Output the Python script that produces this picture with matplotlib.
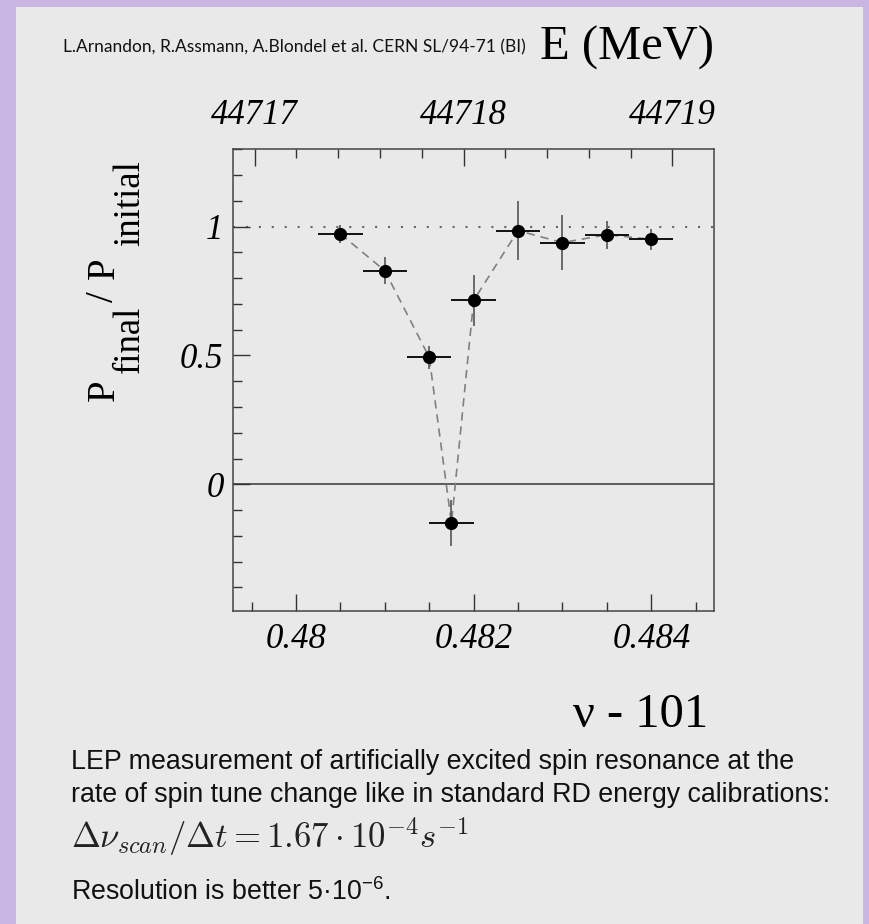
import numpy as np
import matplotlib
matplotlib.use("Agg")
from matplotlib import pyplot as plt
from matplotlib.ticker import MultipleLocator
from matplotlib.patches import Rectangle

# spin tune (nu - 101) of each scan step and measured polarisation ratio
nu = [0.4805, 0.4810, 0.4815, 0.48175, 0.4820, 0.4825, 0.4830, 0.4835, 0.4840]
ratio = [0.972, 0.829, 0.493, -0.150, 0.714, 0.985, 0.938, 0.969, 0.951]
ratio_err = [0.035, 0.052, 0.045, 0.09, 0.098, 0.116, 0.107, 0.055, 0.041]
nu_halfwidth = 0.00025

nu_ticks = [0.48, 0.482, 0.484]
nu_labels = ["0.48", "0.482", "0.484"]
e_ticks = [44717, 44718, 44719]
e_labels = ["44717", "44718", "44719"]
y_ticks = [0, 0.5, 1]
y_labels = ["0", "0.5", "1"]

# energy scale
E_REF = 44717.0
NU_REF = 0.479535
MEV_PER_NU = 425.4

W, H = 869, 924
BG = "#e9e9e9"
SERIF = "Liberation Serif"

plt.rcParams["mathtext.fontset"] = "custom"
plt.rcParams["mathtext.rm"] = "Liberation Sans"
plt.rcParams["mathtext.it"] = "Liberation Sans:italic"


def px(x, y):
    return x / W, 1 - y / H


fig = plt.figure(figsize=(W / 100, H / 100), dpi=100, facecolor="#c9b6e3")
fig.patches.append(Rectangle(px(16, 924), (863 - 16) / W, (924 - 7) / H,
                             transform=fig.transFigure, facecolor=BG,
                             edgecolor="none", zorder=-5))

ax = fig.add_axes([233.3 / W, 1 - 610.7 / H, (714 - 233.3) / W, (610.7 - 149) / H])
ax.patch.set_visible(False)
ax.set_xlim(0.479294, 0.484706)
ax.set_ylim(-0.4907, 1.3016)

ax.axhline(0, color="#444444", lw=1.2, zorder=1)
ax.axhline(1, color="#666666", lw=1.5, linestyle=(0, (1, 5.2)), zorder=1)
ax.plot(nu, ratio, color="#808080", lw=1.2, linestyle=(0, (5, 3.5)), zorder=2)
ax.errorbar(nu, ratio, yerr=ratio_err, fmt="none", ecolor="#555555",
            elinewidth=1.2, capsize=0, zorder=3)
ax.errorbar(nu, ratio, xerr=nu_halfwidth, fmt="o", color="black",
            markersize=8.5, elinewidth=1.3, capsize=0, zorder=4)

for s in ax.spines.values():
    s.set_color("#444444")
    s.set_linewidth(1.1)

tick_font = dict(fontsize=25, fontstyle="italic", fontfamily=SERIF)
ax.set_xticks(nu_ticks, labels=nu_labels, **tick_font)
ax.set_yticks(y_ticks, labels=y_labels, **tick_font)
ax.xaxis.set_minor_locator(MultipleLocator(0.0005))
ax.yaxis.set_minor_locator(MultipleLocator(0.1))
ax.tick_params(which="both", direction="in", top=False, right=False,
               color="#333333", width=1.0)
ax.tick_params(which="major", length=12.5)
ax.tick_params(which="minor", length=6.5)
ax.tick_params(axis="x", which="major", pad=9)
ax.tick_params(axis="y", which="major", pad=7)

sec = ax.secondary_xaxis("top", functions=(
    lambda v: E_REF + (v - NU_REF) * MEV_PER_NU,
    lambda e: NU_REF + (e - E_REF) / MEV_PER_NU))
sec.set_xticks(e_ticks, labels=e_labels, **tick_font)
sec.xaxis.set_minor_locator(MultipleLocator(0.2))
sec.tick_params(which="both", direction="in", color="#333333", width=1.0)
sec.tick_params(which="major", length=12.5, pad=12)
sec.tick_params(which="minor", length=6.5)
sec.spines["top"].set_visible(False)

# y label built from pieces so the subscripts stay large
ylab = [("P", 28, 114, 401), ("final", 26.5, 139, 373), ("/", 28, 113, 302),
        ("P", 28, 114, 279), ("initial", 26.5, 139, 246)]
for txt, size, bx, by in ylab:
    fig.text(*px(bx, by), txt, fontsize=size, fontfamily=SERIF, rotation=90,
             rotation_mode="anchor", ha="left", va="baseline")

fig.text(*px(708, 727), "\u03bd - 101", fontsize=35, fontfamily=SERIF,
         ha="right", va="baseline")
fig.text(*px(540, 60), "E (MeV)", fontsize=35, fontfamily=SERIF,
         ha="left", va="baseline")
fig.text(*px(63, 52), "L.Arnandon, R.Assmann, A.Blondel et al. CERN SL/94-71 (BI)",
         fontsize=12.5, fontfamily="Lato", color="#111111", va="baseline")

body = dict(fontsize=19.3, fontfamily="Liberation Sans", color="#111111", va="baseline")
fig.text(*px(71, 769), "LEP measurement of artificially excited spin resonance at the", **body)
fig.text(*px(71, 801.7), "rate of spin tune change like in standard RD energy calibrations:", **body)
fig.text(*px(71, 848), r"$\Delta\nu_{scan}/\Delta t = 1.67\cdot 10^{-4}s^{-1}$",
         fontsize=25, math_fontfamily="cm", color="#222222", va="baseline")
fig.text(*px(71, 900), "Resolution is better 5\u00b710$^{-6}$.", **body)

fig.savefig("out.png", dpi=100, facecolor=fig.get_facecolor())
